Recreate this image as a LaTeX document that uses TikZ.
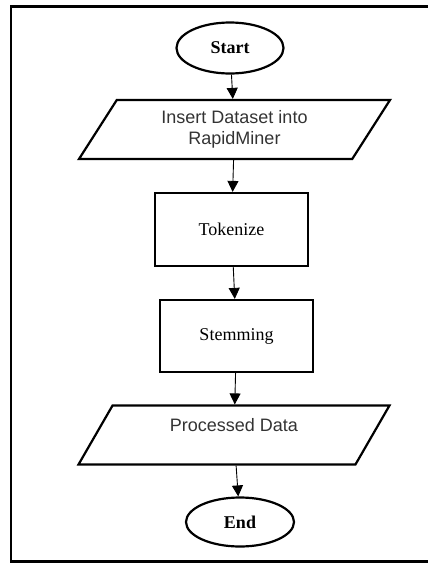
\documentclass[tikz,border=0pt]{standalone}
\usepackage{fontspec}
\setmainfont{Liberation Serif}
\newfontfamily\arialfont{Liberation Sans}
\usetikzlibrary{shapes.geometric, arrows.meta}

\begin{document}
\begin{tikzpicture}[x=1pt, y=-1pt,
    term/.style={draw, ellipse, line width=2.2pt, minimum width=107pt, minimum height=51pt, inner sep=0pt, font=\fontsize{18}{21}\selectfont\bfseries},
    io/.style={draw, trapezium, trapezium left angle=45, trapezium right angle=135, trapezium stretches body, line width=2.2pt, minimum width=311pt, minimum height=59pt, inner sep=0pt, align=center, text=black!80, font=\arialfont\fontsize{18}{21}\selectfont},
    proc/.style={draw, rectangle, line width=2.2pt, minimum width=153pt, minimum height=73pt, font=\fontsize{18}{21}\selectfont},
    flow/.style={-{Triangle[width=11pt,length=11pt]}, line width=0.9pt}]
        \clip (0,0) rectangle (428,563);
        \draw[line width=2.6pt] (440,6.5) -- (11,6.5) -- (11,561.5) -- (440,561.5);

        \node[term] (start) at (230,48) {Start};
        \node[io] (ins) at (234.5,129.5) {Insert Dataset into\\RapidMiner};
        \node[proc] (tok) at (231.5,229.5) {Tokenize};
        \node[proc, minimum height=72pt] (stem) at (236.5,336) {Stemming};
        \node[io] (out) at (234,435) {Processed Data\\\mbox{}};
        \node[term, minimum width=108pt, minimum height=49pt] (end) at (240,522) {End};

        \draw[flow] (start) -- (ins);
        \draw[flow] (ins) -- (tok);
        \draw[flow] (tok) -- (stem);
        \draw[flow] (stem) -- (out);
        \draw[flow] (out) -- (end);
    \end{tikzpicture}
\end{document}
